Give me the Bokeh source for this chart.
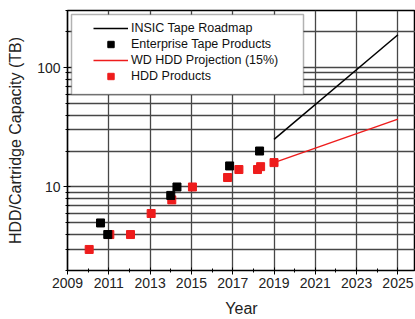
from bokeh.plotting import figure
from bokeh.models import Range1d, FixedTicker, Legend, LegendItem, BoxAnnotation
from bokeh.embed import file_html
from bokeh.resources import INLINE

# ---- data ----
hdd_year = [2010.05, 2011.05, 2012.05, 2013.05, 2014.05, 2015.05, 2016.75, 2017.3, 2018.2, 2018.35, 2019.0]
hdd_tb = [3, 4, 4, 6, 7.8, 10, 12, 14, 14, 14.8, 16]
tape_year = [2010.6, 2010.95, 2014.0, 2014.3, 2016.85, 2018.3]
tape_tb = [5, 4, 8.5, 10, 15, 20]
insic_year = [2019, 2025]
insic_tb = [25, 188]
wd_year = [2019, 2025]
wd_tb = [16, 37]
x_ticks = [2009, 2011, 2013, 2015, 2017, 2019, 2021, 2023, 2025]
x_minor = [2010, 2012, 2014, 2016, 2018, 2020, 2022, 2024]
y_ticks = [10, 100]
y_minor = [2, 3, 4, 5, 6, 7, 8, 9, 20, 30, 40, 50, 60, 70, 80, 90, 200, 300]

FONT = "Liberation Sans"
RED = "#ee1c1c"

p = figure(width=415, height=319, output_backend="svg", toolbar_location=None,
           y_axis_type="log", x_range=Range1d(2009, 2025.85), y_range=Range1d(2, 300),
           min_border_left=67, min_border_right=0, min_border_top=10, min_border_bottom=47)
p.background_fill_color = "white"
p.outline_line_color = "black"
p.outline_line_width = 1.5

p.xaxis.ticker = FixedTicker(ticks=x_ticks, minor_ticks=x_minor)
p.yaxis.ticker = FixedTicker(ticks=y_ticks, minor_ticks=y_minor)
p.yaxis.major_label_overrides = {10: "10", 100: "100"}

for ax in (p.xaxis, p.yaxis):
    ax.axis_line_color = "black"
    ax.axis_line_width = 1.2
    ax.major_tick_line_color = "black"
    ax.minor_tick_line_color = "black"
    ax.major_tick_in = 3
    ax.major_tick_out = 4
    ax.minor_tick_in = 2
    ax.minor_tick_out = 2
    ax.major_label_text_font = FONT
    ax.major_label_text_font_size = "14px"
    ax.major_label_text_color = "#222222"
    ax.axis_label_text_font = FONT
    ax.axis_label_text_font_size = "16px"
    ax.axis_label_text_font_style = "normal"
    ax.axis_label_text_color = "#222222"
    ax.major_label_standoff = 3

p.xaxis.axis_label = "Year"
p.xaxis.axis_label_standoff = 9
p.yaxis.axis_label = "HDD/Cartridge Capacity (TB)"
p.yaxis.axis_label_standoff = 10

p.xgrid.grid_line_color = "#474747"
p.xgrid.grid_line_width = 1.3
p.ygrid.grid_line_color = "#474747"
p.ygrid.grid_line_width = 1.3
p.ygrid.minor_grid_line_color = "#474747"
p.ygrid.minor_grid_line_width = 1.3

r_insic = p.line(insic_year, insic_tb, line_color="black", line_width=1.5)
r_wd = p.line(wd_year, wd_tb, line_color=RED, line_width=1.5)
r_hdd = p.scatter(hdd_year, hdd_tb, marker="square", size=8, fill_color=RED, line_color=RED)
r_tape = p.scatter(tape_year, tape_tb, marker="square", size=8, fill_color="black", line_color="black")

box = BoxAnnotation(left=71, right=303, top=14, bottom=94,
                    left_units="canvas", right_units="canvas", top_units="canvas", bottom_units="canvas",
                    fill_color="white", fill_alpha=1.0, line_color="black", line_width=1.5)
p.add_layout(box)

legend = Legend(items=[
    LegendItem(label="INSIC Tape Roadmap", renderers=[r_insic]),
    LegendItem(label="Enterprise Tape Products", renderers=[r_tape]),
    LegendItem(label="WD HDD Projection (15%)", renderers=[r_wd]),
    LegendItem(label="HDD Products", renderers=[r_hdd]),
], location=(26, 186))
legend.padding = 0
legend.margin = 0
legend.spacing = 0
legend.glyph_width = 35
legend.glyph_height = 16
legend.label_height = 16
legend.label_standoff = 3
legend.border_line_alpha = 0
legend.background_fill_alpha = 0
legend.label_text_font = FONT
legend.label_text_font_size = "12.5px"
legend.label_text_color = "#111111"
p.add_layout(legend, "center")

open("out.html", "w").write(file_html(p, INLINE))
